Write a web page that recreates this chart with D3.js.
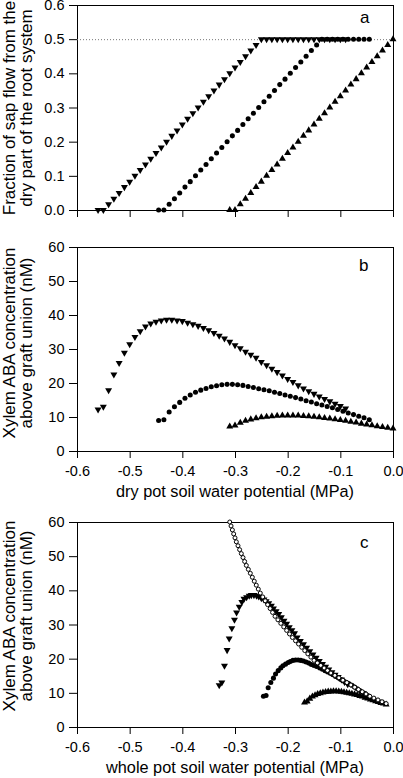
<!DOCTYPE html>
<html><head><meta charset="utf-8">
<script src="https://cdn.jsdelivr.net/npm/d3@7"></script>
<style>body{margin:0;background:#fff}svg{display:block}</style>
</head><body>
<script>
// ---------- data ----------
const xTicks = [-0.6,-0.5,-0.4,-0.3,-0.2,-0.1,0.0];
const xTickLabels = ["-0.6","-0.5","-0.4","-0.3","-0.2","-0.1","0.0"];
const yTicksA = [0,0.1,0.2,0.3,0.4,0.5,0.6];
const yTickLabelsA = ["0.0","0.1","0.2","0.3","0.4","0.5","0.6"];
const yTicksBC = [0,10,20,30,40,50,60];
const yTickLabelsBC = ["0","10","20","30","40","50","60"];

// dry pot soil water potential (MPa)
const dryDown = [-0.56,-0.55,-0.54,-0.53,-0.52,-0.51,-0.50,-0.49,-0.48,-0.47,-0.46,-0.45,-0.44,-0.43,-0.42,-0.41,-0.40,-0.39,-0.38,-0.37,-0.36,-0.35,-0.34,-0.33,-0.32,-0.31,-0.30,-0.29,-0.28,-0.27,-0.26,-0.25,-0.24,-0.23,-0.22,-0.21,-0.20,-0.19,-0.18,-0.17,-0.16,-0.15,-0.14,-0.13,-0.12,-0.11,-0.10,-0.09];
const dryCirc = [-0.445,-0.435,-0.425,-0.415,-0.405,-0.395,-0.385,-0.375,-0.365,-0.355,-0.345,-0.335,-0.325,-0.315,-0.305,-0.295,-0.285,-0.275,-0.265,-0.255,-0.245,-0.235,-0.225,-0.215,-0.205,-0.195,-0.185,-0.175,-0.165,-0.155,-0.145,-0.135,-0.125,-0.115,-0.105,-0.095,-0.085,-0.075,-0.065,-0.055,-0.045];
const dryUp = [-0.31,-0.30,-0.29,-0.28,-0.27,-0.26,-0.25,-0.24,-0.23,-0.22,-0.21,-0.20,-0.19,-0.18,-0.17,-0.16,-0.15,-0.14,-0.13,-0.12,-0.11,-0.10,-0.09,-0.08,-0.07,-0.06,-0.05,-0.04,-0.03,-0.02,-0.01,0.00];

// fraction of sap flow from the dry part
const fracDown = [0,0,0.017,0.033,0.05,0.067,0.083,0.1,0.117,0.133,0.15,0.167,0.183,0.2,0.217,0.233,0.25,0.267,0.283,0.3,0.317,0.333,0.35,0.367,0.383,0.4,0.417,0.433,0.45,0.467,0.483,0.5,
  0.5,0.5,0.5,0.5,0.5,0.5,0.5,0.5,0.5,0.5,0.5,0.5,0.5,0.5,0.5,0.5];
const fracCirc = [0,0,0.017,0.033,0.05,0.067,0.083,0.1,0.117,0.133,0.15,0.167,0.183,0.2,0.217,0.233,0.25,0.267,0.283,0.3,0.317,0.333,0.35,0.367,0.383,0.4,0.417,0.433,0.45,0.467,0.483,0.5,
  0.5,0.5,0.5,0.5,0.5,0.5,0.5,0.5,0.5];
const fracUp = [0,0,0.017,0.033,0.05,0.067,0.083,0.1,0.117,0.133,0.15,0.167,0.183,0.2,0.217,0.233,0.25,0.267,0.283,0.3,0.317,0.333,0.35,0.367,0.383,0.4,0.417,0.433,0.45,0.467,0.483,0.5];

// xylem ABA concentration (nM)
const abaDown = [12.2,13.0,17.9,22.5,25.9,28.9,31.4,33.5,35.2,36.6,37.5,38.0,38.4,38.6,38.6,38.4,38.2,37.7,37.3,36.8,36.2,35.5,34.7,33.9,33.1,32.1,31.1,30.2,29.2,28.3,27.4,26.2,25.2,24.2,23.2,22.2,21.2,20.3,19.3,18.4,17.6,16.8,16.0,15.3,14.6,13.9,13.2,12.5];
const abaCirc = [9.0,9.2,11.5,13.0,14.3,15.5,16.5,17.3,17.9,18.4,18.9,19.2,19.5,19.6,19.6,19.5,19.3,19.0,18.7,18.3,18.0,17.7,17.3,16.9,16.5,16.1,15.7,15.3,14.8,14.4,13.9,13.5,13.1,12.7,12.2,11.7,11.2,10.7,10.2,9.8,9.2];
const abaUp = [7.2,7.5,8.3,8.9,9.3,9.65,9.9,10.1,10.25,10.35,10.42,10.45,10.45,10.42,10.3,10.2,10.05,9.9,9.7,9.55,9.35,9.1,8.9,8.6,8.35,8.05,7.8,7.55,7.3,7.05,6.85,6.6];

// whole pot soil water potential (MPa)
const wholeDown = [-0.330,-0.325,-0.320,-0.315,-0.311,-0.306,-0.301,-0.297,-0.292,-0.287,-0.283,-0.278,-0.273,-0.269,-0.264,-0.259,-0.255,-0.250,-0.245,-0.241,-0.236,-0.231,-0.227,-0.222,-0.217,-0.212,-0.207,-0.202,-0.197,-0.192,-0.187,-0.182,-0.176,-0.170,-0.164,-0.158,-0.152,-0.146,-0.140,-0.134,-0.128,-0.122,-0.116,-0.110,-0.104,-0.098,-0.092,-0.086];
const wholeCirc = [-0.246,-0.241,-0.237,-0.232,-0.227,-0.223,-0.218,-0.213,-0.209,-0.204,-0.199,-0.195,-0.190,-0.185,-0.180,-0.175,-0.170,-0.165,-0.160,-0.155,-0.150,-0.145,-0.139,-0.134,-0.129,-0.124,-0.119,-0.114,-0.109,-0.104,-0.099,-0.094,-0.089,-0.084,-0.078,-0.073,-0.068,-0.063,-0.058,-0.053,-0.048];
const wholeUp = [-0.168,-0.163,-0.158,-0.153,-0.148,-0.143,-0.138,-0.133,-0.128,-0.123,-0.118,-0.113,-0.108,-0.103,-0.098,-0.093,-0.088,-0.083,-0.078,-0.073,-0.068,-0.063,-0.058,-0.053,-0.048,-0.043,-0.038,-0.033,-0.028,-0.023,-0.018,-0.013];

// open circles (panel c)
const wholeOpen = [-0.310,-0.3075,-0.305,-0.3025,-0.300,
  -0.2975,-0.2943,-0.2912,-0.2880,-0.2848,-0.2817,
  -0.2785,-0.2747,-0.2709,-0.2671,-0.2634,-0.2596,-0.2558,
  -0.252,-0.2473,-0.2427,-0.238,-0.2333,-0.2287,
  -0.224,-0.2185,-0.213,-0.2075,-0.202,-0.1965,
  -0.191,-0.1851,-0.1793,-0.1734,-0.1676,-0.1617,-0.1559,
  -0.150,-0.1436,-0.1372,-0.1308,-0.1244,
  -0.118,-0.1104,-0.1028,-0.0952,-0.0876,
  -0.080,-0.0728,-0.0656,-0.0584,-0.0512,
  -0.044,-0.0363,-0.0285,-0.0208,-0.013];
const abaOpen = [60,58.84,57.68,56.52,55.36,
  54.2,53.05,51.9,50.75,49.6,48.45,
  47.3,46.14,44.99,43.83,42.67,41.51,40.36,
  39.2,38.07,36.93,35.8,34.67,33.53,
  32.4,31.37,30.33,29.3,28.27,27.23,
  26.2,25.24,24.29,23.33,22.37,21.41,20.46,
  19.5,18.76,18.02,17.28,16.54,
  15.8,15.1,14.4,13.7,13.0,
  12.3,11.64,10.98,10.32,9.66,
  9.0,8.46,7.93,7.39,6.85];

// ---------- drawing ----------
const W = 403, H = 778;
const FONT = "'Liberation Sans', Arial, Helvetica, sans-serif";
const svg = d3.select("body").append("svg")
  .attr("width", W).attr("height", H)
  .style("font-family", FONT);

const L = 77, R = 393;
const x = d3.scaleLinear().domain([-0.6, 0]).range([L, R]);

const zip = (a, b) => a.map((v, i) => [v, b[i]]);

function panel(top, bottom, ymax, yTicks, yLabels, showXLabels) {
  const y = d3.scaleLinear().domain([0, ymax]).range([bottom, top]);
  const g = svg.append("g");
  // y axis
  const ya = g.append("g").attr("transform", `translate(${L},0)`)
    .call(d3.axisLeft(y).tickValues(yTicks).tickFormat((d, i) => yLabels[i]).tickSize(8).tickPadding(4.5));
  ya.select(".domain").remove();
  ya.selectAll("text").style("font-size", "14.5px").style("font-family", FONT).attr("fill", "#000");
  ya.selectAll("line").attr("stroke", "#000");
  // x axis
  const xa = g.append("g").attr("transform", `translate(0,${bottom})`)
    .call(d3.axisBottom(x).tickValues(xTicks).tickFormat((d, i) => showXLabels ? xTickLabels[i] : "").tickSize(7).tickPadding(8));
  xa.select(".domain").remove();
  xa.selectAll("text").style("font-size", "14.5px").style("font-family", FONT).attr("fill", "#000");
  xa.selectAll("line").attr("stroke", "#000");
  // frame
  g.append("rect").attr("x", L + 0.5).attr("y", top + 0.5)
    .attr("width", R - L).attr("height", bottom - top)
    .attr("fill", "none").attr("stroke", "#000").attr("stroke-width", 1);
  return {g, y};
}

function drawMarks(g, y, pts, kind) {
  const tri = d3.symbol().type(d3.symbolTriangle).size(21)();
  const circ = d3.symbol().type(d3.symbolCircle).size(20)();
  const open = d3.symbol().type(d3.symbolCircle).size(12.5)();
  const sel = g.append("g").selectAll("path").data(pts).join("path");
  if (kind === "down") {
    sel.attr("d", tri).attr("fill", "#000")
      .attr("transform", d => `translate(${x(d[0])},${y(d[1])}) rotate(180)`);
  } else if (kind === "up") {
    sel.attr("d", tri).attr("fill", "#000")
      .attr("transform", d => `translate(${x(d[0])},${y(d[1])})`);
  } else if (kind === "circ") {
    sel.attr("d", circ).attr("fill", "#000")
      .attr("transform", d => `translate(${x(d[0])},${y(d[1])})`);
  } else {
    sel.attr("d", open).attr("fill", "#fff").attr("stroke", "#000").attr("stroke-width", 1)
      .attr("transform", d => `translate(${x(d[0])},${y(d[1])})`);
  }
}

function yTitle(l1, l2, cy) {
  const t = svg.append("g").style("font-size", "17px").attr("fill", "#000");
  t.append("text").attr("transform", `translate(14.5,${cy}) rotate(-90)`).attr("text-anchor", "middle").text(l1);
  t.append("text").attr("transform", `translate(31.5,${cy}) rotate(-90)`).attr("text-anchor", "middle").text(l2);
}

function letter(s, px, py) {
  svg.append("text").attr("x", px).attr("y", py).style("font-size", "17px").attr("fill", "#000").text(s);
}

// Panel a
const A = panel(5, 210, 0.6, yTicksA, yTickLabelsA, false);
A.g.append("line").attr("x1", L).attr("x2", R)
  .attr("y1", A.y(0.5) + 0.5).attr("y2", A.y(0.5) + 0.5)
  .attr("stroke", "#777").attr("stroke-width", 1).attr("stroke-dasharray", "1,2");
drawMarks(A.g, A.y, zip(dryDown, fracDown), "down");
drawMarks(A.g, A.y, zip(dryCirc, fracCirc), "circ");
drawMarks(A.g, A.y, zip(dryUp, fracUp), "up");
letter("a", 360, 23);
yTitle("Fraction of sap flow from the", "dry part of the root system", 108);

// Panel b
const B = panel(247, 451, 60, yTicksBC, yTickLabelsBC, true);
drawMarks(B.g, B.y, zip(dryDown, abaDown), "down");
drawMarks(B.g, B.y, zip(dryCirc, abaCirc), "circ");
drawMarks(B.g, B.y, zip(dryUp, abaUp), "up");
letter("b", 359, 271);
yTitle("Xylem ABA concentration", "above graft union (nM)", 343);
svg.append("text").attr("x", (L + R) / 2).attr("y", 497).attr("text-anchor", "middle")
  .style("font-size", "16.3px").text("dry pot soil water potential (MPa)");

// Panel c
const C = panel(522, 727, 60, yTicksBC, yTickLabelsBC, true);
drawMarks(C.g, C.y, zip(wholeDown, abaDown), "down");
drawMarks(C.g, C.y, zip(wholeCirc, abaCirc), "circ");
drawMarks(C.g, C.y, zip(wholeUp, abaUp), "up");
drawMarks(C.g, C.y, zip(wholeOpen, abaOpen), "open");
letter("c", 360, 548);
yTitle("Xylem ABA concentration", "above graft union (nM)", 616);
svg.append("text").attr("x", (L + R) / 2).attr("y", 773).attr("text-anchor", "middle")
  .style("font-size", "16.3px").text("whole pot soil water potential (MPa)");
</script>
</body></html>
